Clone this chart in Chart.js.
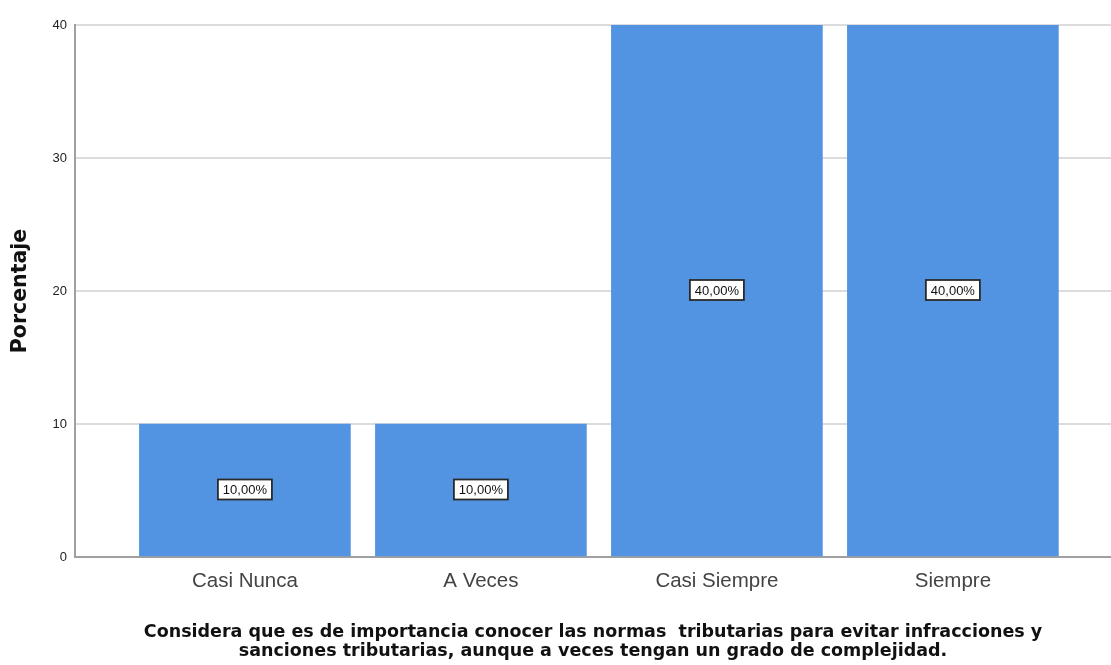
<!DOCTYPE html>
<html>
<head>
<meta charset="utf-8">
<script src="https://cdn.jsdelivr.net/npm/chart.js@4/dist/chart.umd.min.js"></script>
<style>
  html, body { margin: 0; padding: 0; background: #fff; }
  #wrap { width: 1111px; height: 665px; position: relative; }
</style>
</head>
<body>
<div id="wrap"><canvas id="c" width="1111" height="665"></canvas></div>
<script>
const categories = ["Casi Nunca", "A Veces", "Casi Siempre", "Siempre"];
const percentages = [10, 10, 40, 40];
const yTicks = [0, 10, 20, 30, 40];
const yTitle = "Porcentaje";
const xTitle = ["Considera que es de importancia conocer las normas  tributarias para evitar infracciones y", "sanciones tributarias, aunque a veces tengan un grado de complejidad."];

const barData = categories.map((c, i) => ({ x: i + 1, y: percentages[i] }));

const labelPlugin = {
  id: 'valueBoxes',
  afterDatasetsDraw(chart) {
    const ctx = chart.ctx;
    const meta = chart.getDatasetMeta(0);
    const ys = chart.scales.y;
    ctx.save();
    ctx.font = '13px "Liberation Sans Narrow", "Arial Narrow", "Liberation Sans", sans-serif';
    ctx.textAlign = 'center';
    ctx.textBaseline = 'middle';
    meta.data.forEach((bar, i) => {
      const v = percentages[i];
      const txt = v.toFixed(2).replace('.', ',') + '%';
      const cx = bar.x;
      const cy = ys.getPixelForValue(v / 2) - 1;
      const w = 54;
      const h = 20;
      ctx.fillStyle = '#ffffff';
      ctx.fillRect(cx - w / 2, cy - h / 2, w, h);
      ctx.strokeStyle = '#2a2a2a';
      ctx.lineWidth = 1.8;
      ctx.strokeRect(cx - w / 2, cy - h / 2, w, h);
      ctx.fillStyle = '#111111';
      ctx.fillText(txt, cx, cy + 1);
    });
    ctx.restore();
  }
};

new Chart(document.getElementById('c'), {
  type: 'bar',
  data: {
    datasets: [{
      data: barData,
      backgroundColor: '#5294e2',
      borderWidth: 0,
      barThickness: 211
    }]
  },
  plugins: [labelPlugin],
  options: {
    responsive: false,
    animation: false,
    layout: { padding: { top: 25, right: 0, left: 0, bottom: 0 } },
    plugins: { legend: { display: false }, tooltip: { enabled: false } },
    scales: {
      x: {
        type: 'linear',
        min: 0.28,
        max: 4.67,
        offset: false,
        afterBuildTicks(scale) { scale.ticks = categories.map((c, i) => ({ value: i + 1 })); },
        afterFit(scale) { scale.height = 108; },
        grid: { display: false, drawTicks: false },
        border: { display: true, color: '#a0a0a0', width: 2 },
        ticks: {
          autoSkip: false,
          maxRotation: 0,
          padding: 12,
          color: '#444444',
          font: { family: '"Liberation Sans", Arial, sans-serif', size: 20.5 },
          callback: (v) => categories[v - 1] || ''
        },
        title: {
          display: true,
          text: xTitle,
          color: '#111111',
          font: { family: '"DejaVu Sans", sans-serif', size: 17.5, weight: 'bold', lineHeight: 1.09 },
          padding: { top: 28 }
        }
      },
      y: {
        min: 0,
        max: 40,
        afterBuildTicks(scale) { scale.ticks = yTicks.map(v => ({ value: v })); },
        afterFit(scale) { scale.width = 75; },
        grid: { color: '#dcdcdc', lineWidth: 2, drawTicks: false },
        border: { display: true, color: '#a0a0a0', width: 2 },
        ticks: {
          padding: 8,
          color: '#222222',
          font: { family: '"Liberation Sans Narrow", "Liberation Sans", Arial, sans-serif', size: 13 }
        },
        title: {
          display: true,
          text: yTitle,
          color: '#111111',
          font: { family: '"DejaVu Sans", sans-serif', size: 20.5, weight: 'bold' },
          padding: { top: 8, bottom: 0 }
        }
      }
    }
  }
});
</script>
</body>
</html>
